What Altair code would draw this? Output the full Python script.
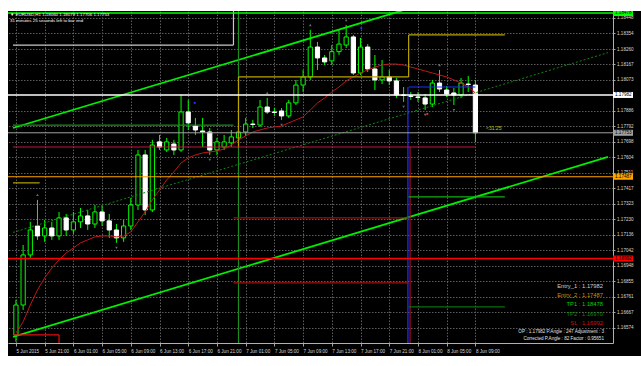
import json
import numpy as np
import pandas as pd
import altair as alt

# ---------------- data ----------------
time_labels = ["5 Jun 2015", "5 Jun 21:00", "6 Jun 01:00", "6 Jun 05:00", "6 Jun 09:00",
               "6 Jun 13:00", "6 Jun 17:00", "6 Jun 21:00", "7 Jun 01:00", "7 Jun 05:00",
               "7 Jun 09:00", "7 Jun 13:00", "7 Jun 17:00", "7 Jun 21:00", "8 Jun 01:00",
               "8 Jun 05:00", "8 Jun 09:00"]
# 1.17979 is hidden under the Entry_1 price box in the reference
price_ticks = [1.16480, 1.16574, 1.16667, 1.16761, 1.16855, 1.16948, 1.17042, 1.17136,
               1.17230, 1.17323, 1.17417, 1.17511, 1.17604, 1.17698, 1.17792, 1.17886,
               1.18073, 1.18167, 1.18260, 1.18354, 1.18448]

opens = [1.16530, 1.16711, 1.17014, 1.17189, 1.17129, 1.17177, 1.17129, 1.17238, 1.17165, 1.17214,
         1.17250, 1.17201, 1.17274, 1.17220, 1.17165, 1.17117, 1.17189, 1.17316, 1.17619, 1.17286,
         1.17698, 1.17649, 1.17685, 1.17649, 1.17879, 1.17794, 1.17764, 1.17758, 1.17649, 1.17667,
         1.17692, 1.17722, 1.17758, 1.17806, 1.17800, 1.17909, 1.17879, 1.17885, 1.17855, 1.17934,
         1.18042, 1.18091, 1.18272, 1.18206, 1.18188, 1.18244, 1.18284, 1.18333, 1.18115, 1.18272,
         1.18139, 1.18073, 1.18091, 1.18067, 1.17982, 1.17976, 1.17970, 1.17964, 1.17927, 1.18054,
         1.18012, 1.17994, 1.17982, 1.18048, 1.18042]
highs = [1.16742, 1.17074, 1.17214, 1.17347, 1.17226, 1.17214, 1.17274, 1.17262, 1.17274, 1.17298,
         1.17286, 1.17316, 1.17310, 1.17262, 1.17201, 1.17226, 1.17359, 1.17649, 1.17649, 1.17710,
         1.17740, 1.17722, 1.17710, 1.17982, 1.17952, 1.17843, 1.17843, 1.17782, 1.17722, 1.17740,
         1.17770, 1.17800, 1.17843, 1.17831, 1.17952, 1.17964, 1.17903, 1.17903, 1.17952, 1.18073,
         1.18133, 1.18375, 1.18303, 1.18224, 1.18284, 1.18375, 1.18405, 1.18345, 1.18327, 1.18290,
         1.18224, 1.18194, 1.18133, 1.18085, 1.18030, 1.18000, 1.18000, 1.17988, 1.18073, 1.18133,
         1.18036, 1.18024, 1.18085, 1.18097, 1.18073]
lows = [1.16488, 1.16681, 1.16996, 1.17105, 1.17093, 1.17105, 1.17105, 1.17129, 1.17141, 1.17177,
        1.17165, 1.17177, 1.17189, 1.17117, 1.17087, 1.17093, 1.17165, 1.17286, 1.17256, 1.17274,
        1.17649, 1.17637, 1.17619, 1.17637, 1.17770, 1.17740, 1.17667, 1.17619, 1.17619, 1.17649,
        1.17667, 1.17698, 1.17734, 1.17782, 1.17788, 1.17867, 1.17855, 1.17831, 1.17843, 1.17921,
        1.18000, 1.18073, 1.18133, 1.18163, 1.18163, 1.18224, 1.18266, 1.18103, 1.18103, 1.18121,
        1.18012, 1.18048, 1.18042, 1.17964, 1.17940, 1.17952, 1.17940, 1.17891, 1.17909, 1.18000,
        1.17970, 1.17921, 1.17964, 1.18000, 1.17698]
closes = [1.16711, 1.17014, 1.17165, 1.17129, 1.17177, 1.17129, 1.17238, 1.17165, 1.17214, 1.17250,
          1.17201, 1.17274, 1.17220, 1.17165, 1.17117, 1.17189, 1.17316, 1.17619, 1.17286, 1.17679,
          1.17667, 1.17698, 1.17649, 1.17879, 1.17813, 1.17770, 1.17758, 1.17649, 1.17698, 1.17698,
          1.17728, 1.17758, 1.17806, 1.17803, 1.17909, 1.17879, 1.17876, 1.17855, 1.17934, 1.18042,
          1.18091, 1.18272, 1.18206, 1.18182, 1.18244, 1.18290, 1.18333, 1.18115, 1.18272, 1.18139,
          1.18073, 1.18091, 1.18067, 1.17982, 1.17979, 1.17973, 1.17967, 1.17927, 1.18054, 1.18018,
          1.17988, 1.17982, 1.18054, 1.18045, 1.17753]
ma = [1.16542, 1.16609, 1.16711, 1.16802, 1.16875, 1.16935, 1.16984, 1.17026, 1.17056, 1.17087,
      1.17105, 1.17123, 1.17129, 1.17129, 1.17123, 1.17129, 1.17153, 1.17214, 1.17274, 1.17347,
      1.17407, 1.17468, 1.17516, 1.17571, 1.17601, 1.17619, 1.17631, 1.17637, 1.17643, 1.17655,
      1.17679, 1.17710, 1.17734, 1.17758, 1.17770, 1.17782, 1.17788, 1.17794, 1.17813, 1.17831,
      1.17849, 1.17891, 1.17934, 1.17964, 1.18000, 1.18030, 1.18067, 1.18091, 1.18115, 1.18133,
      1.18151, 1.18163, 1.18169, 1.18169, 1.18163, 1.18151, 1.18139, 1.18127, 1.18115, 1.18103,
      1.18091, 1.18073, 1.18054, 1.18030, 1.17994]

# horizontal trade levels
level_names = ["TP1", "Entry_1", "Bid", "Entry_2", "SL"]
level_prices = [1.18478, 1.17982, 1.17753, 1.17487, 1.16992]
level_colors = ["#00ff00", "#ffffff", "#a0a0a0", "#ffa500", "#ff0000"]
level_widths = [1.5, 1.5, 1.0, 1.2, 1.6]
box_text_colors = ["#000000", "#000000", "#000000", "#000000", "#000000"]

# channel (bar index, price)
upper_ch = [(-0.41, 1.17782), (82.47, 1.18869)]
lower_ch = [(-0.41, 1.16518), (82.47, 1.17607)]
mid_ch = [(-0.41, 1.17150), (82.47, 1.18238)]

# stepped indicator segments: x, x2 (bar index), y, y2 (price), colour
seg_x = [-0.41, 30.3, -0.41, 31.0, -0.41, 31.0, 31.0, 54.7, 54.7,
         54.6, 54.7, 30.3, 30.3, 54.9, -0.41, 6.0, 54.7, 54.7, -0.41]
seg_x2 = [30.3, 30.3, 30.3, 31.0, 3.3, 31.0, 54.7, 54.7, 68.1,
          54.6, 64.0, 54.7, 54.7, 54.9, 6.0, 6.0, 68.1, 68.1, 64.0]
seg_y = [1.18284, 1.18284, 1.17800, 1.18490, 1.17450, 1.17660, 1.18091, 1.18091, 1.18345,
         1.16481, 1.18030, 1.17238, 1.16845, 1.17667, 1.16530, 1.16530, 1.17365, 1.16700, 1.17667]
seg_y2 = [1.18284, 1.18490, 1.17800, 1.16481, 1.17450, 1.18091, 1.18091, 1.18345, 1.18345,
          1.18030, 1.18030, 1.17238, 1.16845, 1.16481, 1.16530, 1.16481, 1.17365, 1.16700, 1.17667]
seg_color = ["#c8c8c8", "#c8c8c8", "#1f8a1f", "#1f8a1f", "#b8a400", "#b8a400", "#b8a400", "#b8a400", "#b8a400",
             "#2030ff", "#2030ff", "#a01010", "#a01010", "#a01010", "#e01010", "#e01010", "#10b010", "#0e6e0e",
             "#c8143c"]

frac_up_i = [3, 35, 41, 46, 59]
frac_dn_i = [14, 27, 37, 54, 57, 61]

dots_i = [24.9, 48.1, 57.3]
dots_p = [1.17934, 1.18387, 1.17867]
dots_c = ["#2030ff", "#2030ff", "#ff2020"]

info_lines = ["Entry_1 : 1.17982", "Entry_2 : 1.17487", "TP1 : 1.18478", "TP2 : 1.16970", "SL : 1.16992"]
info_colors = ["#d0d0d0", "#c8900a", "#00d000", "#0a8a0a", "#d01010"]
foot_lines = ["OP : 1.17982   P.Angle : 247   Adjustment : 3", "Corrected P.Angle : 82   Factor : 0.95651"]
title_lines = ["\u25bc EURUSD,H1  1.18060 1.18079 1.17706 1.17753", "31 minutes 25 seconds left to bar end"]

# ---------------- chart ----------------
FONT = "Liberation Sans"
W, H = 605, 332
xs = alt.Scale(domain=[-0.41, 82.47], nice=False, zero=False)
ys = alt.Scale(domain=[1.16481, 1.18490], nice=False, zero=False)

label_expr = "%s[round(datum.value / 4)]" % json.dumps(time_labels)
xaxis = alt.Axis(values=list(range(0, 65, 4)), labelExpr=label_expr, title=None, grid=True,
                 gridColor="#5c5c5c", gridDash=[1.5, 1.5], gridWidth=1, labelFont=FONT,
                 labelFontSize=4.6, labelColor="#d8d8d8", labelAlign="left", labelBaseline="top",
                 labelPadding=2, tickSize=3, tickColor="#a0a0a0", domainColor="#b0b0b0",
                 labelOverlap=False, labelFlush=False)
yaxis = alt.Axis(orient="right", values=price_ticks, format=".5f", title=None, grid=True,
                 gridColor="#5c5c5c", gridDash=[1.5, 1.5], gridWidth=1, labelFont=FONT,
                 labelFontSize=4.6, labelColor="#d8d8d8", labelPadding=1.5, tickSize=2,
                 tickColor="#a0a0a0", domainColor="#b0b0b0", labelOverlap=False, labelFlush=False)


def X(f):
    return alt.X(f, type="quantitative", scale=xs, axis=xaxis)


def Y(f):
    return alt.Y(f, type="quantitative", scale=ys, axis=yaxis)


n = len(opens)
df = pd.DataFrame({"i": np.arange(n), "open": opens, "high": highs, "low": lows,
                   "close": closes, "ma": ma})
bull = df["close"] >= df["open"]
df["fill"] = np.where(bull, "#000000", "#ffffff")
df["stroke"] = np.where(bull, "#00ff00", "#ffffff")

wicks = alt.Chart(df).mark_rule(color="#00ff00", strokeWidth=1).encode(
    x=X("i"), y=Y("low"), y2="high")
bodies = alt.Chart(df).mark_bar(width=4.2, strokeWidth=1).encode(
    x=X("i"), y=Y("open"), y2="close",
    fill=alt.Fill("fill:N", scale=None), stroke=alt.Stroke("stroke:N", scale=None))
ma_line = alt.Chart(df).mark_line(color="#c01818", strokeWidth=1).encode(x=X("i"), y=Y("ma"))

ch_rows = []
for name, pts in [("upper", upper_ch), ("lower", lower_ch)]:
    for a, b in pts:
        ch_rows.append({"line": name, "i": a, "p": b})
ch_df = pd.DataFrame(ch_rows)
channel = alt.Chart(ch_df).mark_line(color="#00ee00", strokeWidth=1.8, clip=True).encode(
    x=X("i"), y=Y("p"), detail="line:N")
mid_df = pd.DataFrame({"i": [a for a, b in mid_ch], "p": [b for a, b in mid_ch]})
midline = alt.Chart(mid_df).mark_line(color="#0a8a0a", strokeWidth=1, strokeDash=[2, 2], clip=True).encode(
    x=X("i"), y=Y("p"))

seg_df = pd.DataFrame({"x": seg_x, "x2": seg_x2, "y": seg_y, "y2": seg_y2, "c": seg_color})
segs = alt.Chart(seg_df).mark_rule(strokeWidth=1.2, clip=True).encode(
    x=X("x"), x2="x2", y=Y("y"), y2="y2", color=alt.Color("c:N", scale=None))

lev_df = pd.DataFrame({"name": level_names, "p": level_prices, "c": level_colors, "w": level_widths,
                       "tc": box_text_colors, "lab": ["%.5f" % v for v in level_prices]})
levels = alt.Chart(lev_df).mark_rule().encode(
    y=Y("p"), color=alt.Color("c:N", scale=None), strokeWidth=alt.StrokeWidth("w:Q", scale=None))
boxes = alt.Chart(lev_df).mark_rule(strokeWidth=6).encode(
    y=Y("p"), x=alt.value(W), x2=alt.value(W + 20), color=alt.Color("c:N", scale=None))
box_txt = alt.Chart(lev_df).mark_text(align="left", baseline="middle", font=FONT, fontSize=4.6).encode(
    y=Y("p"), x=alt.value(W + 2), text="lab:N", color=alt.Color("tc:N", scale=None))

fu = df.loc[frac_up_i, ["i", "high"]].rename(columns={"high": "p"})
fd = df.loc[frac_dn_i, ["i", "low"]].rename(columns={"low": "p"})
frac_up = alt.Chart(fu).mark_point(shape="triangle-up", size=7, filled=True, color="#9a9a9a",
                                   yOffset=-5).encode(x=X("i"), y=Y("p"))
frac_dn = alt.Chart(fd).mark_point(shape="triangle-down", size=7, filled=True, color="#9a9a9a",
                                   yOffset=5).encode(x=X("i"), y=Y("p"))
dots_df = pd.DataFrame({"i": dots_i, "p": dots_p, "c": dots_c})
dots = alt.Chart(dots_df).mark_circle(size=5, opacity=1).encode(
    x=X("i"), y=Y("p"), color=alt.Color("c:N", scale=None))

one = pd.DataFrame({"a": [0]})


def text_layer(t, x, y, color, size, align):
    return alt.Chart(one).mark_text(align=align, baseline="middle", font=FONT, fontSize=size,
                                    color=color, text=t).encode(x=alt.value(x), y=alt.value(y))


texts = []
for k, (t, c) in enumerate(zip(info_lines, info_colors)):
    texts.append(text_layer(t, 595, 275 + k * 9.2, c, 5.8, "right"))
for k, t in enumerate(foot_lines):
    texts.append(text_layer(t, 596, 321 + k * 7, "#e0e0e0", 4.6, "right"))
for k, t in enumerate(title_lines):
    texts.append(text_layer(t, 2, 4 + k * 6, "#ffffff", 4.4, "left"))
texts.append(text_layer("<31:25", 478, 117, "#c8c000", 5, "left"))

m_top = alt.Chart(one).mark_rect(color="#ffffff").encode(
    x=alt.value(-8), x2=alt.value(W + 28), y=alt.value(-11), y2=alt.value(0))
m_left = alt.Chart(one).mark_rect(color="#ffffff").encode(
    x=alt.value(-8), x2=alt.value(0), y=alt.value(-11), y2=alt.value(H + 23))
m_bot = alt.Chart(one).mark_rect(color="#ffffff").encode(
    x=alt.value(-8), x2=alt.value(W + 28), y=alt.value(H + 13), y2=alt.value(H + 23))

chart = alt.layer(
    wicks, bodies, ma_line, midline, channel, segs, levels, frac_up, frac_dn, dots,
    boxes, box_txt, *texts, m_top, m_left, m_bot
).properties(
    width=W, height=H, background="#000000",
    padding={"left": 8, "top": 11, "right": 28, "bottom": 23},
    autosize=alt.AutoSizeParams(type="none"),
).configure_view(stroke=None)

chart.save("out.html", embed_options={"renderer": "svg", "actions": False})
